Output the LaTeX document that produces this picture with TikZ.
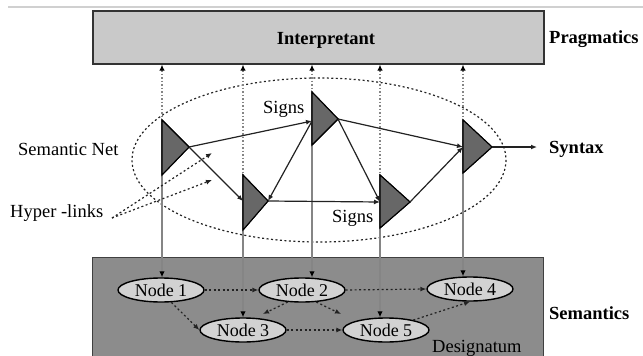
\documentclass[tikz,border=0pt]{standalone}
\usepackage{fontspec}
\setmainfont{Liberation Serif}
\usetikzlibrary{arrows.meta,shapes.geometric}
\definecolor{boxlight}{HTML}{C9C9C9}
\definecolor{boxdark}{HTML}{8C8C8C}
\definecolor{nodefill}{HTML}{D2D2D2}
\definecolor{trifill}{HTML}{676767}
\definecolor{vline}{HTML}{858585}
\definecolor{edgecol}{HTML}{222222}
\definecolor{topline}{HTML}{D0D0D0}
\begin{document}
\begin{tikzpicture}[x=1pt,y=-1pt,
 txt/.style={font=\fontsize{18.5}{20}\selectfont, inner sep=0pt},
 btxt/.style={inner sep=0pt, font=\fontsize{18.5}{20}\selectfont\bfseries},
 tipa/.style={-{Latex[length=6pt,width=5pt]}},
 edgeline/.style={draw=edgecol, line width=1.2pt, tipa},
 vsolid/.style={draw=vline, line width=1.8pt, -{Latex[length=6pt,width=5.5pt,color=black]}},
 vdotted/.style={draw=vline, line width=1.5pt, dash pattern=on 1.5pt off 2pt, {Latex[length=6pt,width=5.5pt,color=black]}-},
 tri/.style={draw=black, fill=trifill, line width=1.1pt, line join=miter},
 nd/.style={ellipse, draw=black, line width=1.4pt, fill=nodefill, inner sep=0pt, minimum width=86pt, minimum height=24pt, font=\fontsize{18}{20}\selectfont},
 ndlink/.style={draw=edgecol, line width=1.2pt, dash pattern=on 2pt off 2.5pt, tipa},
 netline/.style={draw=edgecol, line width=1.2pt, dash pattern=on 2pt off 2.5pt},
]
\useasboundingbox (0,0) rectangle (643,356);
\clip (0,0) rectangle (643,356);

% top rule
\draw[topline, line width=2pt] (8,7) -- (643,7);

% Interpretant box
\node[draw=black!80, line width=1.6pt, fill=boxlight, minimum width=451pt, minimum height=53pt, inner sep=0pt, anchor=north west] (interp) at (92,10) {};
\node[btxt, anchor=base] (interptxt) at (326,45) {Interpretant};
\node[btxt, anchor=base west] (prag) at (549,43) {Pragmatics};

% Designatum box
\node[draw=black!75, line width=1.4pt, fill=boxdark, minimum width=451pt, minimum height=105pt, inner sep=0pt, anchor=north west] (desig) at (92,257) {};
\node[txt, anchor=base west] (desigtxt) at (432,352) {Designatum};
\node[btxt, anchor=base west] (sem) at (549,319) {Semantics};

% semantic net ellipse
\draw[netline] (319,160) ellipse [x radius=187, y radius=82];

% triangles (signs)
\draw[tri] (162,120) coordinate (t1t) -- (189,147) coordinate (t1a) -- (162,175) coordinate (t1b) -- cycle;
\coordinate (t1m) at (162,147);
\draw[tri] (243,175) coordinate (t2t) -- (268,201) coordinate (t2a) -- (243,230) coordinate (t2b) -- cycle;
\coordinate (t2m) at (243,201);
\draw[tri] (312,92) coordinate (t3t) -- (338,119) coordinate (t3a) -- (312,145) coordinate (t3b) -- cycle;
\coordinate (t3m) at (312,121);
\draw[tri] (380,175) coordinate (t4t) -- (410,202) coordinate (t4a) -- (380,228) coordinate (t4b) -- cycle;
\coordinate (t4m) at (380,202);
\draw[tri] (463,120) coordinate (t5t) -- (492,147) coordinate (t5a) -- (463,173) coordinate (t5b) -- cycle;
\coordinate (t5m) at (463,147);

% nodes
\node[nd] (n1) at (161,290) {Node 1};
\node[nd] (n2) at (302,290) {Node 2};
\node[nd] (n4) at (470,289) {Node 4};
\node[nd] (n3) at (243,330) {Node 3};
\node[nd] (n5) at (386,330) {Node 5};

% vertical links to interpretant (dotted) and to nodes (solid)
\draw[vdotted] (t1t |- interp.south) -- (t1t);
\draw[vdotted] (t2t |- interp.south) -- (t2t);
\draw[vdotted] (t3t |- interp.south) -- (t3t);
\draw[vdotted] (t4t |- interp.south) -- (t4t);
\draw[vdotted] (t5t |- interp.south) -- (t5t);
\draw[vsolid] (t1b) -- (t1b |- n1.north);
\draw[vsolid] (t2b) -- (t2b |- n3.north);
\draw[vsolid] (t3b) -- (t3b |- n2.north);
\draw[vsolid] (t4b) -- (t4b |- n5.north);
\draw[vsolid] (t5b) -- (t5b |- n4.north);

% redraw triangle outlines over the lines
\draw[tri] (t1t) -- (t1a) -- (t1b) -- cycle;
\draw[tri] (t2t) -- (t2a) -- (t2b) -- cycle;
\draw[tri] (t3t) -- (t3a) -- (t3b) -- cycle;
\draw[tri] (t4t) -- (t4a) -- (t4b) -- cycle;
\draw[tri] (t5t) -- (t5a) -- (t5b) -- cycle;

% sign edges
\draw[edgeline] (t1a) -- (t3m);
\draw[edgeline] (t1a) -- (t2m);
\draw[edgeline] (t3m) -- (t2a);
\draw[edgeline] (t2a) -- (t4m);
\draw[edgeline] (t3a) -- (t4m);
\draw[edgeline] (t3a) -- (t5m);
\draw[edgeline] (t4a) -- (t5m);
\coordinate (synend) at (537,147);
\draw[edgeline] (t5a) -- (synend);
\node[btxt, anchor=base west] (syn) at (549,153) {Syntax};

% labels
\node[txt, anchor=base west] (snet) at (18,155) {Semantic Net};
\node[txt, anchor=base west] (hyper) at (10,217) {Hyper -links};
\node[txt, anchor=base west] (signs1) at (263,113) {Signs};
\node[txt, anchor=base west] (signs2) at (332,222) {Signs};

% hyper-links
\coordinate (hl) at (112,218);
\coordinate (hla) at (212,153);
\coordinate (hlb) at (212,180);
\draw[ndlink] (hl) -- (hla);
\draw[ndlink] (hl) -- (hlb);

% node links
\coordinate (h3) at (263,314);
\coordinate (h5) at (341,314);
\draw[ndlink] (n1.east) -- (n2.west);
\draw[ndlink] (n2.east) -- (n4.west);
\draw[ndlink] (n1.-50) -- (n3.west);
\draw[ndlink] (n3.east) -- (n5.west);
\draw[ndlink] (n2.-140) -- (h3);
\draw[ndlink] (n2.-40) -- (h5);
\draw[ndlink] (n5.20) -- (n4.south);
\end{tikzpicture}
\end{document}
